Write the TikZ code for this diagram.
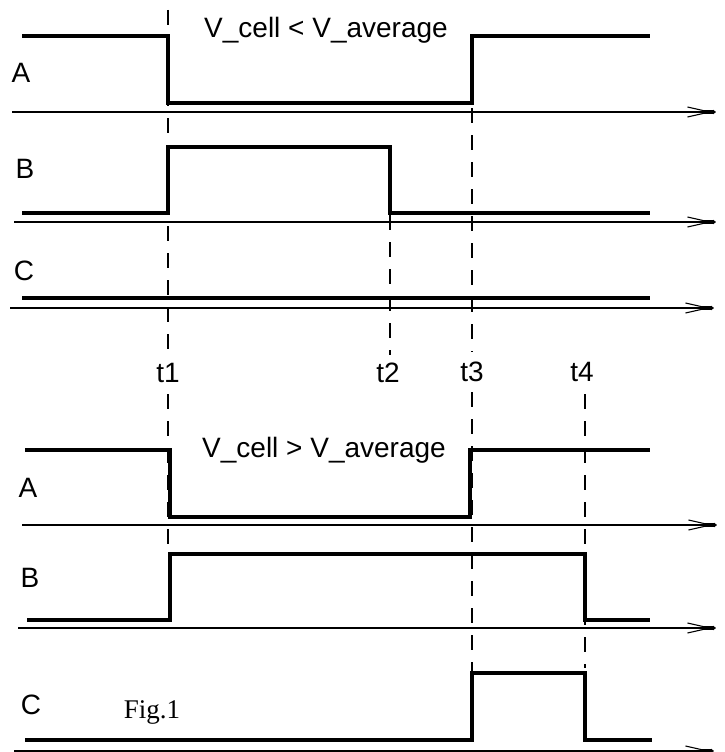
\documentclass[tikz,border=0pt]{standalone}
\usepackage{fontspec}
\setmainfont{Liberation Sans}
\newfontfamily\figfont{Liberation Serif}
\usetikzlibrary{arrows.meta}
\tikzset{
  sig/.style={line width=3.6pt, line join=miter, line cap=butt},
  axis/.style={line width=1.2pt, -{Straight Barb[length=22pt,width=10pt,line width=1.1pt,sep=-8pt]Rectangle[length=9pt,width=4.5pt,sep=0pt]Triangle[length=3pt,width=4.5pt]}},
  guide/.style={line width=1.2pt, dash pattern=on 15pt off 12pt},
  lbl/.style={font=\fontsize{28}{28}\selectfont, inner sep=0pt, anchor=base},
}
\begin{document}
\begin{tikzpicture}[x=1pt,y=-1pt]
\useasboundingbox (0,0) rectangle (724,752);

% time marker labels
\node[lbl] (t1) at (168,382) {t1};
\node[lbl] (t2) at (388,382) {t2};
\node[lbl] (t3) at (472,381) {t3};
\node[lbl] (t4) at (582,381) {t4};

% dashed guides, broken around the labels
\draw[guide] (168,10) -- (168,352);
\draw[guide] (168,394) -- (168,548);
\draw[guide] (390,215) -- (390,355);
\draw[guide] (472,108) -- (472,352);
\draw[guide] (472,392) -- (472,672);
\draw[guide] (585,394) -- (585,668);

% ---- upper case ----
\node[lbl] (capA) at (326,38) {V\_cell < V\_average};
\node[lbl] (A1) at (21,82) {A};
\node[lbl] (B1) at (25,178) {B};
\node[lbl] (C1) at (24,280) {C};

\coordinate (a1s) at (12,112);  \coordinate (a1e) at (716,112);
\coordinate (b1s) at (14,222);  \coordinate (b1e) at (716,222);
\coordinate (c1s) at (10,308);  \coordinate (c1e) at (714,308);
\draw[axis] (a1s) -- (a1e);
\draw[axis] (b1s) -- (b1e);
\draw[axis] (c1s) -- (c1e);

\draw[sig] (22,36) -- (168,36) -- (168,103) -- (472,103) -- (472,36) -- (650,36);
\draw[sig] (22,213) -- (168,213) -- (168,147) -- (390,147) -- (390,213) -- (650,213);
\draw[sig] (22,298) -- (650,298);

% ---- lower case ----
\node[lbl] (capB) at (324,457) {V\_cell > V\_average};
\node[lbl] (A2) at (28,497) {A};
\node[lbl] (B2) at (30,587) {B};
\node[lbl] (C2) at (31,714) {C};
\node[font=\figfont\fontsize{27}{27}\selectfont, inner sep=0pt, anchor=base] (fig) at (152,718) {Fig.1};

\coordinate (a2s) at (22,525);  \coordinate (a2e) at (717,525);
\coordinate (b2s) at (18,628);  \coordinate (b2e) at (716,628);
\coordinate (c2s) at (14,751);  \coordinate (c2e) at (714,751);
\draw[axis] (a2s) -- (a2e);
\draw[axis] (b2s) -- (b2e);
\draw[axis] (c2s) -- (c2e);

\draw[sig] (25,450) -- (170,450) -- (170,517) -- (470,517) -- (470,450) -- (650,450);
\draw[sig] (27,620) -- (170,620) -- (170,554) -- (585,554) -- (585,620) -- (650,620);
\draw[sig] (25,740) -- (472,740) -- (472,673) -- (585,673) -- (585,740) -- (652,740);
\end{tikzpicture}
\end{document}
